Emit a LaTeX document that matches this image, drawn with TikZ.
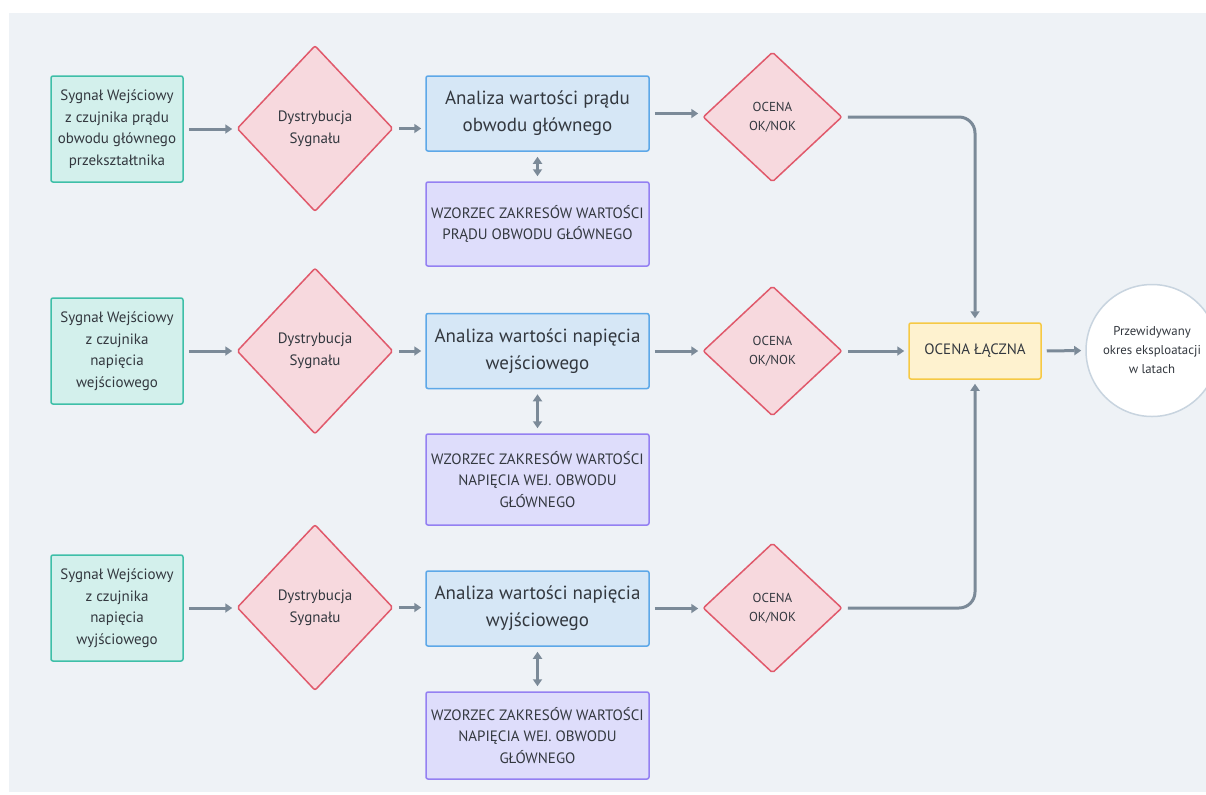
\documentclass[tikz,border=0pt]{standalone}
\usepackage{fontspec}
\setmainfont{PT Sans}
\usetikzlibrary{shapes.geometric,arrows.meta}

\definecolor{canvas}{HTML}{EEF2F6}
\definecolor{ink}{HTML}{33383F}
\definecolor{tealF}{HTML}{D3F0EC}
\definecolor{tealB}{HTML}{3EBFA8}
\definecolor{redF}{HTML}{F7D9DE}
\definecolor{redB}{HTML}{E0596B}
\definecolor{blueF}{HTML}{D6E7F6}
\definecolor{blueB}{HTML}{5DA8E8}
\definecolor{purpF}{HTML}{DEDDFB}
\definecolor{purpB}{HTML}{9480F2}
\definecolor{yelF}{HTML}{FEF2CF}
\definecolor{yelB}{HTML}{F6C944}
\definecolor{ringB}{HTML}{C8D4DF}
\definecolor{wire}{HTML}{7B8A98}

\begin{document}
\begin{tikzpicture}[x=0.5pt,y=-0.5pt,
  base/.style={text=ink, inner sep=0pt, align=center, line width=0.75pt},
  sensor/.style={base, draw=tealB, fill=tealF, rounded corners=1pt,
    minimum width=66pt, minimum height=53pt, font=\fontsize{7.5}{10.8}\selectfont},
  distrib/.style={base, diamond, draw=redB, fill=redF, rounded corners=1pt,
    minimum width=78pt, minimum height=83pt, font=\fontsize{7.5}{11}\selectfont},
  analysis/.style={base, draw=blueB, fill=blueF, rounded corners=1pt,
    minimum width=111.5pt, minimum height=37.5pt, font=\fontsize{9.5}{13.5}\selectfont},
  refbox/.style={base, draw=purpB, fill=purpF, rounded corners=1pt,
    minimum width=111.5pt, font=\fontsize{7.5}{10.7}\selectfont},
  verdict/.style={base, diamond, draw=redB, fill=redF, rounded corners=1pt,
    minimum width=69.5pt, minimum height=65pt, font=\fontsize{6.5}{9.5}\selectfont},
  combined/.style={base, draw=yelB, fill=yelF, rounded corners=1pt,
    minimum width=66pt, minimum height=28pt, font=\fontsize{7.5}{10}\selectfont},
  result/.style={base, circle, draw=ringB, fill=white,
    minimum size=66pt, font=\fontsize{6.4}{9.5}\selectfont},
  flow/.style={draw=wire, line width=1.5pt,
    -{Triangle[length=3.5pt,width=4.5pt]}, shorten <=2.5pt, shorten >=2pt},
  link/.style={draw=wire, line width=1.5pt,
    {Triangle[length=3.5pt,width=4.5pt]}-{Triangle[length=3.5pt,width=4.5pt]},
    shorten <=2.5pt, shorten >=2.5pt}
]
\useasboundingbox (0,0) rectangle (1206,794);
\clip (0,0) rectangle (1206,794);
\fill[canvas] (9,13) rectangle (1206,792);

% row 1: main circuit current
\node[sensor]   (s1) at (117,129)   {Sygnał Wejściowy\\z czujnika prądu\\obwodu głównego\\przekształtnika};
\node[distrib]  (d1) at (315,128.5) {Dystrybucja\\Sygnału};
\node[analysis] (a1) at (537.5,113.5) {Analiza wartości prądu\\obwodu głównego};
\node[refbox, minimum height=42pt] (r1) at (537.5,224) {WZORZEC ZAKRESÓW WARTOŚCI\\PRĄDU OBWODU GŁÓWNEGO};
\node[verdict]  (v1) at (772.5,117) {OCENA\\OK/NOK};

% row 2: input voltage
\node[sensor]   (s2) at (117,351)   {Sygnał Wejściowy\\z czujnika\\napięcia\\wejściowego};
\node[distrib]  (d2) at (315,351)   {Dystrybucja\\Sygnału};
\node[analysis] (a2) at (537.5,351) {Analiza wartości napięcia\\wejściowego};
\node[refbox, minimum height=45.5pt] (r2) at (537.5,479.5) {WZORZEC ZAKRESÓW WARTOŚCI\\NAPIĘCIA WEJ. OBWODU\\GŁÓWNEGO};
\node[verdict]  (v2) at (772.5,351) {OCENA\\OK/NOK};

% row 3: output voltage
\node[sensor]   (s3) at (117,608)   {Sygnał Wejściowy\\z czujnika\\napięcia\\wyjściowego};
\node[distrib]  (d3) at (315,607.5) {Dystrybucja\\Sygnału};
\node[analysis] (a3) at (537.5,608.5) {Analiza wartości napięcia\\wyjściowego};
\node[refbox, minimum height=43.5pt] (r3) at (537.5,735.5) {WZORZEC ZAKRESÓW WARTOŚCI\\NAPIĘCIA WEJ. OBWODU\\GŁÓWNEGO};
\node[verdict]  (v3) at (772.5,608) {OCENA\\OK/NOK};

% aggregation and output
\node[combined] (c)  at (975,351)   {OCENA ŁĄCZNA};
\node[result]   (o)  at (1152,350.5) {Przewidywany\\okres eksploatacji\\w latach};

% connectors
\foreach \i in {1,2,3}{
  \draw[flow] (s\i.east) -- (s\i.east -| d\i.west);
  \draw[flow] (d\i.east) -- (d\i.east -| a\i.west);
  \draw[flow] (a\i.east) -- (a\i.east -| v\i.west);
  \draw[link] (a\i.south) -- (r\i.north);
}
\draw[flow, rounded corners=8pt] (v1.east) -| (c.north);
\draw[flow] (v2.east) -- (c.west);
\draw[flow, rounded corners=8pt] (v3.east) -| (c.south);
\draw[flow] (c.east) -- (o.west);
\end{tikzpicture}
\end{document}
